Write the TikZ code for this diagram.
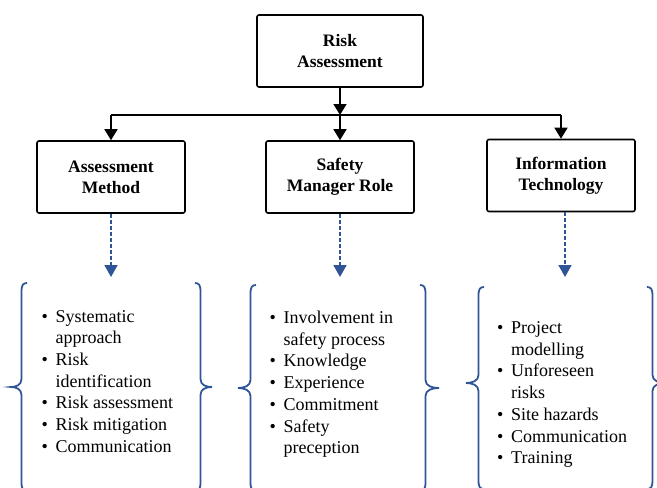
\documentclass[tikz,border=0pt]{standalone}
\usepackage{fontspec}
\setmainfont{Liberation Serif}
\usetikzlibrary{arrows.meta}
\definecolor{braceblue}{RGB}{47,85,151}

% bullet list set as a table: bullet column, then the item text
\newcommand{\bulletlist}[1]{%
  \begin{tabular}[t]{@{}p{14pt}@{}l@{}}#1\end{tabular}}
\newcommand{\bu}{\textbullet}

\begin{document}
\begin{tikzpicture}[x=1pt,y=-1pt,
  box/.style={draw, line width=1.6pt, rounded corners=2pt,
    minimum width=148pt, minimum height=72pt, align=center, inner sep=0pt,
    font=\fontsize{17.5}{21}\selectfont\bfseries},
  feed/.style={line width=1.6pt, -{Triangle[length=11pt,width=13pt]}},
  detail/.style={draw=braceblue, line width=1.8pt, dash pattern=on 4pt off 2pt,
    -{Triangle[length=12pt,width=13pt]}},
  brace/.style={draw=braceblue, line width=1.8pt},
  itemlist/.style={anchor=base west, inner sep=0pt,
    font=\fontsize{18}{21.7}\selectfont}
]
\useasboundingbox (0,0) rectangle (657,488);
\clip (0,0) rectangle (657,488);

% boxes
\node[box, minimum width=166pt] (top) at (340,51) {Risk\\Assessment};
\node[box] (meth) at (111,177) {Assessment\\Method};
\node[box] (role) at (340,177) {Safety\\Manager Role};
\node[box] (tech) at (561,175.5) {Information\\Technology};

% distribution bus
\coordinate (bus)  at (340,115);
\coordinate (busL) at (111,115);
\coordinate (busR) at (561,115);
\draw[line width=1.6pt] (busL) -- (busR);
\draw[feed] (top.south) -- (bus);
\draw[feed] (bus) -- (role.north);
\draw[feed] (busL) -- (meth.north);
\draw[feed] (busR) -- (tech.north);

% dashed links to the detail groups
\coordinate (methTip) at (111,277);
\coordinate (roleTip) at (340,277);
\coordinate (techTip) at (565,277);
\draw[detail] (meth.south) -- (methTip);
\draw[detail] (role.south) -- (roleTip);
\draw[detail] ([xshift=4pt]tech.south) -- (techTip);

% braces of the left group
\draw[brace] (27,283) .. controls (23,283) and (21.5,285) .. (21.5,292) -- (21.5,379)
  .. controls (21.5,385) and (16,387) .. (11,387)
  .. controls (16,387) and (21.5,389) .. (21.5,395) -- (21.5,482)
  .. controls (21.5,489) and (23,491) .. (27,491);
\draw[brace] (195,283) .. controls (199,283) and (200.5,285) .. (200.5,292) -- (200.5,379)
  .. controls (200.5,385) and (206,387) .. (212,387)
  .. controls (206,387) and (200.5,389) .. (200.5,395) -- (200.5,482)
  .. controls (200.5,489) and (199,491) .. (195,491);

% braces of the middle group
\draw[brace] (256,285) .. controls (252,285) and (250.5,287) .. (250.5,294) -- (250.5,380)
  .. controls (250.5,386) and (244,388) .. (238,388)
  .. controls (244,388) and (250.5,390) .. (250.5,396) -- (250.5,482)
  .. controls (250.5,489) and (252,491) .. (256,491);
\draw[brace] (420,285) .. controls (424,285) and (425.5,287) .. (425.5,294) -- (425.5,380)
  .. controls (425.5,386) and (432,388) .. (439,388)
  .. controls (432,388) and (425.5,390) .. (425.5,396) -- (425.5,482)
  .. controls (425.5,489) and (424,491) .. (420,491);

% braces of the right group
\draw[brace] (484,287) .. controls (480,287) and (478.5,289) .. (478.5,296) -- (478.5,375)
  .. controls (478.5,381) and (472,383) .. (466,383)
  .. controls (472,383) and (478.5,385) .. (478.5,391) -- (478.5,480)
  .. controls (478.5,487) and (480,489) .. (484,489);
\draw[brace] (647,287) .. controls (651,287) and (652.5,289) .. (652.5,296) -- (652.5,375)
  .. controls (652.5,381) and (659,383) .. (666,383)
  .. controls (659,383) and (652.5,385) .. (652.5,391) -- (652.5,480)
  .. controls (652.5,487) and (651,489) .. (647,489);

% item lists
\node[itemlist] (methList) at (41.5,322) {\bulletlist{%
  \bu & Systematic\\ & approach\\
  \bu & Risk\\ & identification\\
  \bu & Risk assessment\\
  \bu & Risk mitigation\\
  \bu & Communication}};
\node[itemlist] (roleList) at (269.5,323.5) {\bulletlist{%
  \bu & Involvement in\\ & safety process\\
  \bu & Knowledge\\
  \bu & Experience\\
  \bu & Commitment\\
  \bu & Safety\\ & preception}};
\node[itemlist] (techList) at (497,333.5) {\bulletlist{%
  \bu & Project\\ & modelling\\
  \bu & Unforeseen\\ & risks\\
  \bu & Site hazards\\
  \bu & Communication\\
  \bu & Training}};
\end{tikzpicture}
\end{document}
